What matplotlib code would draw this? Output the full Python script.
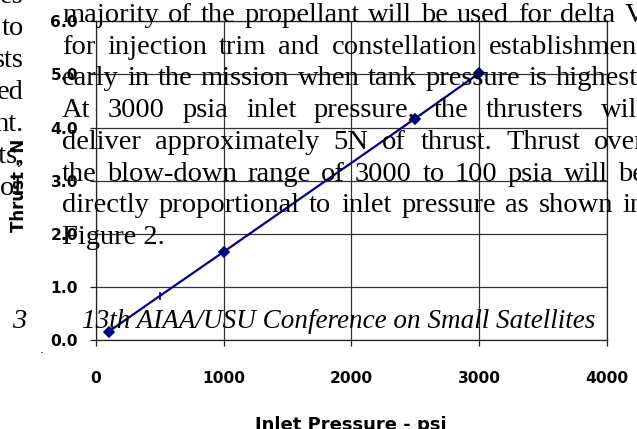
import matplotlib

matplotlib.use("Agg")
import matplotlib.pyplot as plt
from matplotlib.font_manager import FontProperties

# thrust curve
pressure = [100, 500, 1000, 2500, 3000]
thrust = [0.16, 0.83, 1.66, 4.17, 5.02]
markers = ["D", "|", "D", "D", "D"]

x_ticks = [0, 1000, 2000, 3000, 4000]
y_ticks = [0.0, 1.0, 2.0, 3.0, 4.0, 5.0, 6.0]

# page text that sits on top of the chart
body_lines = [
    "majority of the propellant will be used for delta V",
    "for injection trim and constellation establishment",
    "early in the mission when tank pressure is highest.",
    "At 3000 psia inlet pressure, the thrusters will",
    "deliver approximately 5N of thrust.  Thrust over",
    "the blow-down range of 3000 to 100 psia will be",
    "directly proportional to inlet pressure as shown in",
    "Figure 2.",
]
left_fragments = ["es", "to", "sts", "ed", "nt.", "nts,", "of"]
page_number = "3"
footer = "13th AIAA/USU Conference on Small Satellites"

W, H = 637, 429
fig = plt.figure(figsize=(W / 100, H / 100), dpi=100)


def fx(px):
    return px / W


def fy(py):
    return 1 - py / H


ax = fig.add_axes([fx(96), fy(340), (606.7 - 96) / W, (340 - 21.3) / H])
ax.plot(pressure, thrust, color="#000080", lw=1.6, zorder=3)
for p, t, m in zip(pressure, thrust, markers):
    ax.plot(p, t, marker=m, color="#000080", ms=5 if m == "D" else 6, mew=1.2, zorder=4)

ax.set_xlim(0, 4000)
ax.set_ylim(0, 6)
ax.set_xticks(x_ticks)
ax.set_yticks(y_ticks)
ax.set_xticklabels([str(v) for v in x_ticks])
ax.set_yticklabels([f"{v:.1f}" for v in y_ticks])
ax.grid(True, color="#333333", lw=0.9)
for s in ax.spines.values():
    s.set_color("#222222")
    s.set_linewidth(0.9)
ax.tick_params(axis="both", direction="out", length=4.5, width=0.9, color="#222222")
ax.tick_params(axis="y", pad=8.5)
ax.tick_params(axis="x", pad=18)
tick_font = FontProperties(family="DejaVu Sans", weight="bold", size=11.2)
for lab in ax.get_xticklabels() + ax.get_yticklabels():
    lab.set_fontproperties(tick_font)

fig.text(fx(351), fy(429.5), "Inlet Pressure - psi", ha="center", va="baseline",
         family="DejaVu Sans", weight="bold", size=13)
fig.text(fx(19), fy(185), "Thrust - N", ha="center", va="center", rotation=90,
         family="DejaVu Sans", weight="bold", size=12)
fig.text(fx(42), fy(353), ".", ha="center", va="baseline", family="DejaVu Sans", size=9)

serif = dict(family="Liberation Serif", size=20.5, color="black", zorder=10)
renderer = fig.canvas.get_renderer()
left_edge, right_edge = 62, 645
line_step = 31.8
for i, line in enumerate(body_lines):
    base = 21.7 + i * line_step
    if i == len(body_lines) - 1:
        fig.text(fx(left_edge), fy(base), line, va="baseline", **serif)
        continue
    words = line.split()
    items = [fig.text(0, fy(base), w, va="baseline", **serif) for w in words]
    widths = [t.get_window_extent(renderer).width for t in items]
    gap = (right_edge - left_edge - sum(widths)) / (len(words) - 1)
    x = left_edge
    for t, w in zip(items, widths):
        t.set_x(fx(x))
        x += w + gap

for i, frag in enumerate(left_fragments):
    fig.text(fx(24), fy(3 + i * 32), frag, ha="right", va="baseline", **serif)

fig.text(fx(12), fy(328), page_number, va="baseline", style="italic", **serif)
fig.text(fx(82), fy(328), footer, va="baseline", style="italic", size=19.5,
         **{k: v for k, v in serif.items() if k != "size"})

fig.savefig("out.png", dpi=100)
